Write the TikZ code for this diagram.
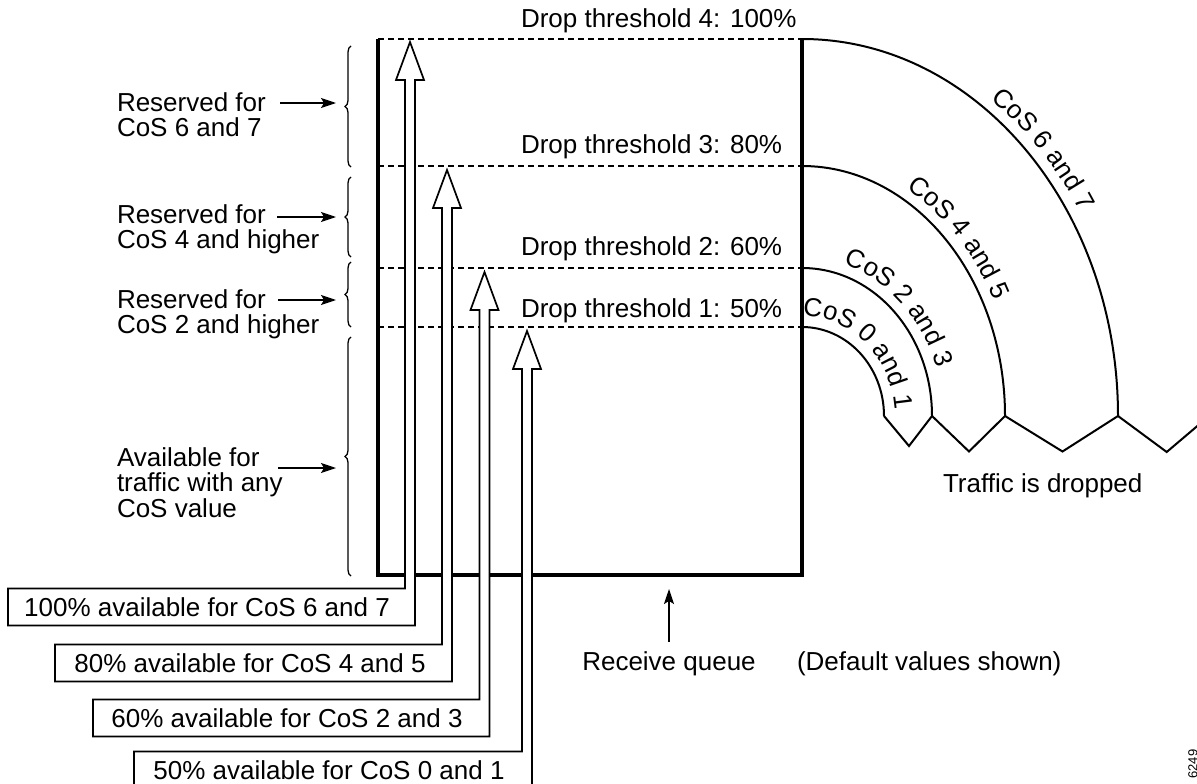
\documentclass[tikz,border=0pt]{standalone}
\usepackage{fontspec}
\setmainfont{Liberation Sans}
\usetikzlibrary{arrows.meta,decorations.pathreplacing,decorations.text}
\newcommand\arclabelfont{\fontsize{26}{26}\selectfont}
\begin{document}
\begin{tikzpicture}[x=1pt,y=-1pt,
  every node/.style={inner sep=0pt,outer sep=0pt,font=\fontsize{26}{25.5}\selectfont},
  thickline/.style={line width=4pt,line join=miter},
  dashline/.style={line width=1.4pt,dash pattern=on 6pt off 4pt},
  curve/.style={line width=2pt},
  bracestyle/.style={line width=1.3pt,decorate,decoration={brace,amplitude=6pt}},
  ptr/.style={line width=1.3pt,-{Stealth[length=15pt,width=10pt,inset=3pt]}},
  hollow/.style={line width=1.7pt,fill=white,line join=miter},
  leftlabel/.style={anchor=north west,align=left},
  arclabel/.style={decorate,decoration={text along path,text align=center,text={|\arclabelfont|#1}}},
]
\useasboundingbox (0,0) rectangle (1197,784);

% threshold levels
\coordinate (L4) at (378,39);  \coordinate (R4) at (802,39);
\coordinate (L3) at (378,166); \coordinate (R3) at (802,166);
\coordinate (L2) at (378,268); \coordinate (R2) at (802,268);
\coordinate (L1) at (378,327); \coordinate (R1) at (802,327);
\coordinate (BL) at (378,575); \coordinate (BR) at (802,575);

\draw[dashline] (L4) -- (R4);
\draw[dashline] (L3) -- (R3);
\draw[dashline] (L2) -- (R2);
\draw[dashline] (L1) -- (R1);
\draw[thickline] (L4) -- (BL) -- (BR) -- (R4);

% threshold labels
\node[anchor=base west] (t4) at (521,28) {Drop threshold 4: 100\%};
\node[anchor=base west] (t3) at (521,153) {Drop threshold 3: 80\%};
\node[anchor=base west] (t2) at (521,255) {Drop threshold 2: 60\%};
\node[anchor=base west] (t1) at (521,317) {Drop threshold 1: 50\%};

% arcs
\coordinate (e4) at (1118,416);
\coordinate (e3) at (1005,416);
\coordinate (e2) at (932,416);
\coordinate (e1) at (884,416);
\draw[curve] (R4) .. controls +(174.5,0) and +(0,-208.2) .. (e4);
\draw[curve] (R3) .. controls +(112.1,0) and +(0,-138.1) .. (e3);
\draw[curve] (R2) .. controls +(71.8,0) and +(0,-81.7) .. (e2);
\draw[curve] (R1) .. controls +(45.3,0) and +(0,-49.2) .. (e1);
\coordinate (z1) at (909,446);
\coordinate (z2) at (969,451.5);
\coordinate (z3) at (1062.5,451.5);
\coordinate (z4) at (1166.7,452);
\coordinate (zend) at (1215,411);
\draw[curve,line join=miter] (e1) -- (z1) -- (e2) -- (z2) -- (e3) -- (z3) -- (e4) -- (z4) -- (zend);

% arc labels (text following each arc, just outside it)
\path[arclabel={CoS 6 and 7}] (766,28) -- (802,28) .. controls +(180.6,0) and +(0,-214.3) .. (1129,416) -- (1129,446);
\path[arclabel={CoS 4 and 5}] (766,155) -- (802,155) .. controls +(118.2,0) and +(0,-144.2) .. (1016,416) -- (1016,446);
\path[arclabel={CoS 2 and 3}] (766,257) -- (802,257) .. controls +(77.9,0) and +(0,-87.8) .. (943,416) -- (943,446);
\path[arclabel={CoS 0 and 1}] (766,316) -- (802,316) .. controls +(51.4,0) and +(0,-55.2) .. (895,416) -- (895,446);

\node[anchor=base west] (drop) at (943,492) {Traffic is dropped};

% hollow arrows with label boxes
\foreach \cx/\ty/\bl/\bt/\bb in {410/42/8/588.5/625.5, 447/170/55/644.5/681.5, 484.5/272/93/699.5/736.5, 527/331/134/751.5/790}{
  \draw[hollow] (\cx,\ty) -- (\cx+14,\ty+38) -- (\cx+5,\ty+38) -- (\cx+5,\bb) -- (\bl,\bb)
     -- (\bl,\bt) -- (\cx-5,\bt) -- (\cx-5,\ty+38) -- (\cx-14,\ty+38) -- cycle;
}
\node (b1) at (207,607) {100\% available for CoS 6 and 7};
\node (b2) at (250,663) {80\% available for CoS 4 and 5};
\node (b3) at (287,718) {60\% available for CoS 2 and 3};
\node (b4) at (329,770) {50\% available for CoS 0 and 1};

% braces
\draw[bracestyle] (351,167) -- (351,46);
\draw[bracestyle] (351,257) -- (351,177);
\draw[bracestyle] (351,327) -- (351,262);
\draw[bracestyle] (351,576) -- (351,337);

% left labels
\node[leftlabel] (r67) at (117,92.5) {Reserved for\\CoS 6 and 7};
\node[leftlabel] (r4) at (117,204.5) {Reserved for\\CoS 4 and higher};
\node[leftlabel] (r2) at (117,289.5) {Reserved for\\CoS 2 and higher};
\node[leftlabel] (rany) at (117,447.5) {Available for\\traffic with any\\CoS value};
\coordinate (a1s) at (280,103);  \coordinate (a1e) at (336,103);
\coordinate (a2s) at (277,217);  \coordinate (a2e) at (336,217);
\coordinate (a3s) at (278,300);  \coordinate (a3e) at (336,300);
\coordinate (a4s) at (278,468);  \coordinate (a4e) at (336,468);
\draw[ptr] (a1s) -- (a1e);
\draw[ptr] (a2s) -- (a2e);
\draw[ptr] (a3s) -- (a3e);
\draw[ptr] (a4s) -- (a4e);

% receive queue
\node[anchor=base] (rq) at (669,670) {Receive queue};
\coordinate (qtip) at (669,589);
\draw[ptr] ([yshift=9pt]rq.north) -- (qtip);
\node[anchor=base west] (dv) at (797,670) {(Default values shown)};

\node[rotate=90,font=\fontsize{13}{13}\selectfont] (fig) at (1193,764) {6249};
\end{tikzpicture}
\end{document}
